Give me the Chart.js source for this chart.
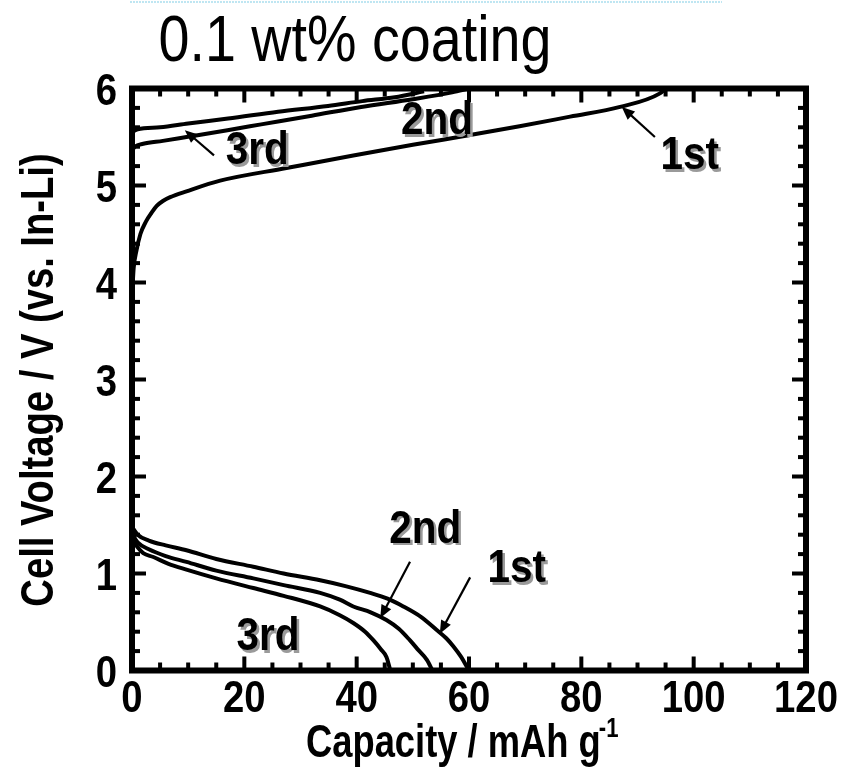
<!DOCTYPE html>
<html>
<head>
<meta charset="utf-8">
<script src="https://cdn.jsdelivr.net/npm/chart.js@4"></script>
<style>
  html, body { margin: 0; padding: 0; background: #fff; }
  #wrap { width: 842px; height: 775px; }
</style>
</head>
<body>
<div id="wrap"><canvas id="c" width="842" height="775"></canvas></div>
<script>
// capacity (mAh/g) and voltage (V)
const charge1X = [0, 0.3, 0.8, 1.5, 2.5, 3.5, 4.4, 5.5, 6.8, 9.7, 15.7, 27.5, 39.4, 50, 60.2, 69, 78, 86.9, 94, 95];
const charge1Y = [3.85, 4.15, 4.33, 4.5, 4.63, 4.72, 4.79, 4.84, 4.88, 4.94, 5.05, 5.18, 5.31, 5.42, 5.52, 5.61, 5.71, 5.81, 5.95, 6.0];
const charge2X = [0, 0.5, 2, 5.5, 9.7, 17, 23, 32, 40.8, 50, 57, 60];
const charge2Y = [5.36, 5.4, 5.43, 5.46, 5.5, 5.57, 5.63, 5.72, 5.81, 5.89, 5.96, 6.0];
const charge3X = [0, 1, 5, 10, 17.1, 26, 34.9, 41, 46.8, 52];
const charge3Y = [5.55, 5.58, 5.6, 5.64, 5.69, 5.76, 5.82, 5.87, 5.91, 5.97];
const disc1X = [0, 1, 3, 6, 9.7, 15, 21.6, 27, 33.5, 38, 42.4, 45.5, 48.3, 51.5, 54.2, 56, 57.2, 58.6, 59.6, 60];
const disc1Y = [1.48, 1.4, 1.34, 1.29, 1.24, 1.15, 1.07, 1.0, 0.93, 0.87, 0.8, 0.74, 0.66, 0.55, 0.42, 0.33, 0.25, 0.14, 0.04, 0];
const disc2X = [0, 1, 3, 6, 9.7, 15, 21.6, 27, 33.5, 37, 39.4, 42.5, 45.3, 47.5, 49.5, 51, 52.5, 53.5];
const disc2Y = [1.41, 1.32, 1.25, 1.18, 1.12, 1.03, 0.95, 0.88, 0.8, 0.73, 0.66, 0.6, 0.52, 0.43, 0.31, 0.21, 0.11, 0];
const disc3X = [0, 1, 2, 3.8, 6.5, 9.7, 15, 21.6, 27, 33.5, 37, 39.4, 41.5, 43, 44.3, 45.3, 46];
const disc3Y = [1.36, 1.27, 1.21, 1.17, 1.1, 1.04, 0.95, 0.85, 0.77, 0.66, 0.57, 0.49, 0.4, 0.31, 0.22, 0.14, 0];

const xTicks = [0, 20, 40, 60, 80, 100, 120];
const yTicks = [0, 1, 2, 3, 4, 5, 6];

// annotation text / arrows (in data units)
const notes = [
  { text: "1st", x: 99.3, y: 5.30, from: [93.1, 5.50], to: [87.2, 5.81] },
  { text: "2nd", x: 54.3, y: 5.66 },
  { text: "3rd", x: 22.3, y: 5.35, from: [14.6, 5.31], to: [9.4, 5.57] },
  { text: "2nd", x: 52.2, y: 1.45, from: [49.5, 1.12], to: [44.2, 0.54] },
  { text: "1st", x: 68.5, y: 1.04, from: [60.2, 0.96], to: [54.8, 0.38] },
  { text: "3rd", x: 24.2, y: 0.34 }
];

const FONT = "'Liberation Sans', Arial, sans-serif";

function pts(xs, ys) {
  return xs.map((x, i) => ({ x: x, y: ys[i] }));
}

function curve(xs, ys) {
  return {
    data: pts(xs, ys),
    borderColor: "#000",
    borderWidth: 4,
    pointRadius: 0,
    fill: false,
    cubicInterpolationMode: "monotone"
  };
}

// narrow text: Liberation Sans squeezed sideways to look like Arial Narrow
function ntext(ctx, str, x, y, font, align, sx) {
  ctx.save();
  ctx.font = font;
  ctx.translate(x, y);
  ctx.scale(sx, 1);
  ctx.textAlign = align || "center";
  ctx.fillText(str, 0, 0);
  ctx.restore();
}

function arrow(ctx, x1, y1, x2, y2) {
  const a = Math.atan2(y2 - y1, x2 - x1);
  const head = 13, w = 5.5;
  ctx.beginPath();
  ctx.moveTo(x1, y1);
  ctx.lineTo(x2 - Math.cos(a) * head * 0.8, y2 - Math.sin(a) * head * 0.8);
  ctx.lineWidth = 2.2;
  ctx.strokeStyle = "#000";
  ctx.stroke();
  ctx.beginPath();
  ctx.moveTo(x2, y2);
  ctx.lineTo(x2 - Math.cos(a) * head - Math.sin(a) * w, y2 - Math.sin(a) * head + Math.cos(a) * w);
  ctx.lineTo(x2 - Math.cos(a) * head + Math.sin(a) * w, y2 - Math.sin(a) * head - Math.cos(a) * w);
  ctx.closePath();
  ctx.fillStyle = "#000";
  ctx.fill();
}

const framePlugin = {
  id: "frame",
  beforeDraw(chart) {
    const ctx = chart.ctx;
    ctx.save();
    ctx.fillStyle = "#fff";
    ctx.fillRect(0, 0, chart.width, chart.height);
    // faint dotted line at the very top of the original scan
    ctx.strokeStyle = "#bfe6f2";
    ctx.lineWidth = 2;
    ctx.setLineDash([2, 1]);
    ctx.beginPath();
    ctx.moveTo(130, 2);
    ctx.lineTo(722, 2);
    ctx.stroke();
    ctx.restore();
  },
  afterDraw(chart) {
    const ctx = chart.ctx;
    const a = chart.chartArea;
    const xs = chart.scales.x, ys = chart.scales.y;
    ctx.save();
    ctx.fillStyle = "#000";
    // minor + major ticks, inward on all four sides
    for (let v = 0; v <= 120; v += 5) {
      const px = xs.getPixelForValue(v);
      const len = v % 20 === 0 ? 14 : 8;
      ctx.fillRect(px - 2, a.bottom - len, 4, len);
      ctx.fillRect(px - 2, a.top, 4, len);
    }
    for (let i = 0; i <= 30; i++) {
      const v = i / 5;
      const py = ys.getPixelForValue(v);
      const len = i % 5 === 0 ? 14 : 8;
      ctx.fillRect(a.left, py - 2, len, 4);
      ctx.fillRect(a.right - len, py - 2, len, 4);
    }
    // frame
    ctx.strokeStyle = "#000";
    ctx.lineWidth = 6;
    ctx.strokeRect(a.left, a.top, a.right - a.left, a.bottom - a.top);

    // tick labels
    ctx.fillStyle = "#000";
    ctx.textBaseline = "alphabetic";
    const tickFont = "bold 44px " + FONT;
    xs.ticks.forEach(t => {
      ntext(ctx, String(t.value), xs.getPixelForValue(t.value), 712, tickFont, "center", 0.87);
    });
    ys.ticks.forEach(t => {
      ntext(ctx, String(t.value), 117, ys.getPixelForValue(t.value) + 16, tickFont, "right", 0.87);
    });

    // annotations
    ctx.textBaseline = "middle";
    const noteFont = "bold 46px " + FONT;
    notes.forEach(n => {
      const px = xs.getPixelForValue(n.x), py = ys.getPixelForValue(n.y);
      ctx.fillStyle = "#9a9a9a";
      ntext(ctx, n.text, px + 2.5, py + 2.5, noteFont, "center", 0.88);
      ctx.fillStyle = "#000";
      ntext(ctx, n.text, px, py, noteFont, "center", 0.88);
      if (n.from) {
        arrow(ctx,
          xs.getPixelForValue(n.from[0]), ys.getPixelForValue(n.from[1]),
          xs.getPixelForValue(n.to[0]), ys.getPixelForValue(n.to[1]));
      }
    });

    // title
    ctx.fillStyle = "#000";
    ctx.textBaseline = "alphabetic";
    ntext(ctx, "0.1 wt% coating", 355, 61, "64px " + FONT, "center", 0.87);

    // x axis title with superscript
    const xFont = "bold 46px " + FONT, supFont = "bold 28px " + FONT;
    ctx.font = xFont;
    const wMain = ctx.measureText("Capacity / mAh g").width * 0.79;
    const startX = 306;
    ntext(ctx, "Capacity / mAh g", startX, 757, xFont, "left", 0.79);
    ntext(ctx, "-1", startX + wMain - 2, 737, supFont, "left", 0.79);

    // y axis title
    ctx.save();
    ctx.translate(53, 380);
    ctx.rotate(-Math.PI / 2);
    ntext(ctx, "Cell Voltage / V (vs. In-Li)", 0, 0, "bold 46px " + FONT, "center", 0.83);
    ctx.restore();
    ctx.restore();
  }
};

new Chart(document.getElementById("c"), {
  type: "line",
  data: {
    datasets: [
      curve(charge1X, charge1Y),
      curve(charge2X, charge2Y),
      curve(charge3X, charge3Y),
      curve(disc1X, disc1Y),
      curve(disc2X, disc2Y),
      curve(disc3X, disc3Y)
    ]
  },
  options: {
    responsive: false,
    animation: false,
    devicePixelRatio: 1,
    layout: { padding: { top: 88.5, right: 36, left: 0, bottom: 0 } },
    plugins: { legend: { display: false }, tooltip: { enabled: false } },
    scales: {
      x: {
        type: "linear",
        min: 0,
        max: 120,
        afterBuildTicks(scale) { scale.ticks = xTicks.map(v => ({ value: v })); },
        afterFit(scale) { scale.height = 104.5; },
        grid: { display: false, drawTicks: false },
        border: { display: false },
        ticks: { display: false }
      },
      y: {
        type: "linear",
        min: 0,
        max: 6,
        afterBuildTicks(scale) { scale.ticks = yTicks.map(v => ({ value: v })); },
        afterFit(scale) { scale.width = 132; },
        grid: { display: false, drawTicks: false },
        border: { display: false },
        ticks: { display: false }
      }
    }
  },
  plugins: [framePlugin]
});
</script>
</body>
</html>
